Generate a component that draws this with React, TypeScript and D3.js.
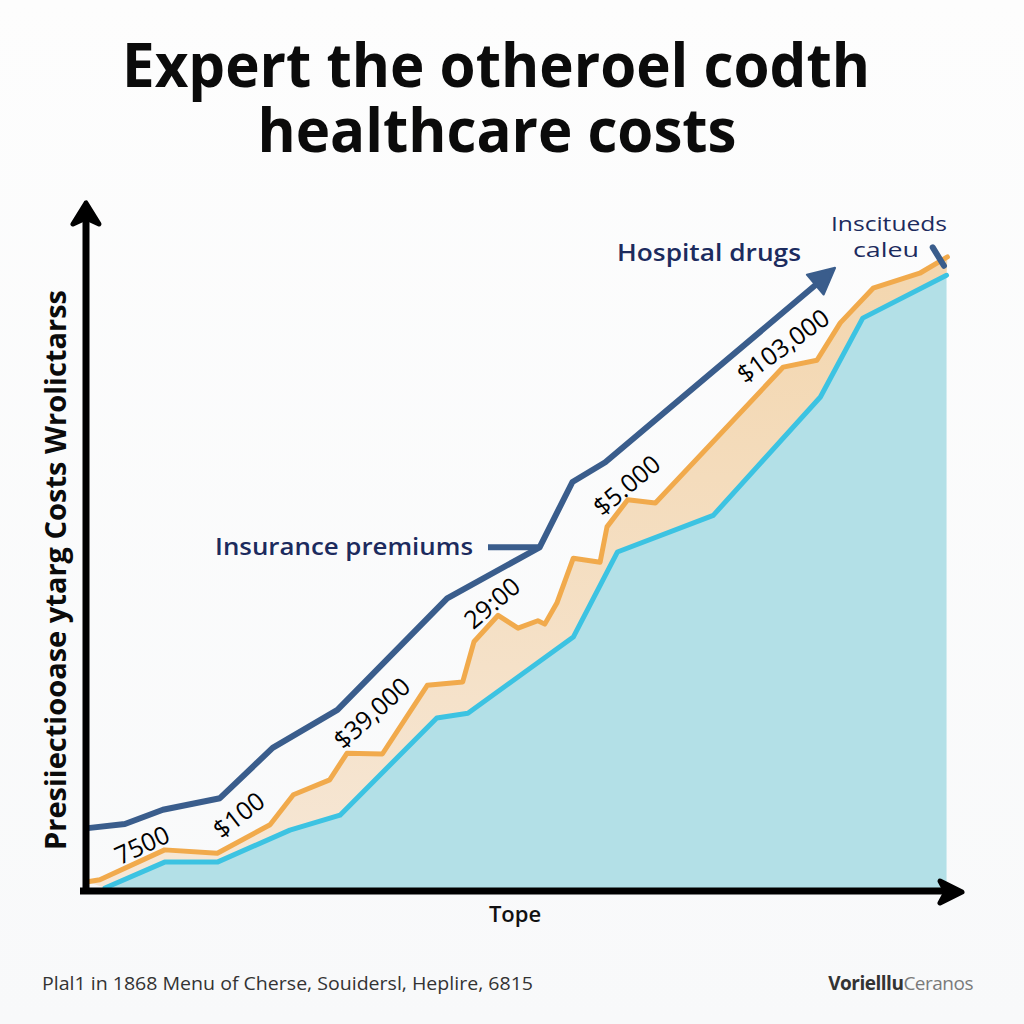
import React from "react";
import * as d3 from "d3";

// ---- data (x: period index 0..100, y: cost index 0..100) ----
const hospitalX = [0.2, 4.5, 8.9, 15.5, 21.6, 29.1, 41.8, 52.5, 56.3, 60.1, 86.7];
const hospitalY = [9.1, 9.7, 11.8, 13.5, 20.9, 26.5, 42.9, 50.4, 60.0, 62.9, 91.5];

const premiumsX = [0.2, 1.6, 9.1, 15.2, 21.3, 24.0, 28.2, 30.2, 34.3, 39.5, 43.6, 44.9, 47.7, 50.0, 52.3, 53.1, 54.5, 56.4, 59.5, 60.3, 62.7, 65.9, 80.7, 84.6, 87.3, 91.1, 96.5, 99.7];
const premiumsY = [1.2, 1.5, 5.9, 5.4, 9.6, 14.0, 16.2, 20.1, 20.0, 30.1, 30.6, 36.5, 40.4, 38.5, 39.6, 39.1, 42.2, 48.8, 48.2, 53.4, 57.4, 56.9, 76.9, 77.9, 83.4, 88.5, 90.7, 93.1];

const baseX = [2.2, 9.1, 15.2, 23.6, 29.4, 40.6, 44.2, 56.4, 61.5, 72.6, 85.0, 89.9, 99.6];
const baseY = [0.3, 4.1, 4.1, 8.8, 11.0, 25.3, 26.0, 37.2, 49.7, 55.1, 72.5, 84.1, 90.4];

const valueLabels = ["7500", "$100", "$39,000", "29:00", "$5.000", "$103,000"];
const valueLabelX = [6.5, 17.7, 33.1, 47.0, 62.6, 80.7];
const valueLabelY = [6.6, 11.0, 26.0, 42.2, 59.5, 80.0];
const valueLabelAngle = [-25, -38, -42, -40, -40, -36];

const title = ["Expert the otheroel codth", "healthcare costs"];
const yTitle = "Presiiectiooase ytarg Costs Wrolictarss";
const xTitle = "Tope";
const footLeft = "Plal1 in 1868 Menu of Cherse, Souidersl, Heplire, 6815";
const footRightA = "Vorielllu";
const footRightB = "Ceranos";

type P = [number, number];
const zip = (xs: number[], ys: number[]): P[] => xs.map((x, i) => [x, ys[i]]);

export default function App() {
  const W = 1024, H = 1024;
  const x = d3.scaleLinear().domain([0, 100]).range([86, 950]);
  const y = d3.scaleLinear().domain([0, 100]).range([890, 210]);

  const line = d3.line<P>().x((d) => x(d[0])).y((d) => y(d[1]));
  const area = d3.area<P>().x((d) => x(d[0])).y0(y(0)).y1((d) => y(d[1]));

  const hosp = zip(hospitalX, hospitalY);
  const prem = zip(premiumsX, premiumsY);
  const base = zip(baseX, baseY);

  const bandPath = line(prem.concat(base.slice().reverse()))! + "Z";

  const navy = "#1c2b5e";
  const blue = "#3a5d8c";
  const orange = "#f1aa4c";
  const cyan = "#3cc3e2";

  const last = hosp[hosp.length - 1];
  const prev = hosp[hosp.length - 2];
  const ang = Math.atan2(y(last[1]) - y(prev[1]), x(last[0]) - x(prev[0])) * 180 / Math.PI;

  const ax = x(0);
  const ay = y(0);

  return (
    <svg width={W} height={H} viewBox={`0 0 ${W} ${H}`}
      style={{ position: "fixed", left: 0, top: 0, background: "#fbfbfb" }}>
      <defs>
        <linearGradient id="band" x1="0" y1="0" x2="0" y2="1">
          <stop offset="0%" stopColor="#f3d6ae" />
          <stop offset="100%" stopColor="#f6e7d6" />
        </linearGradient>
        <linearGradient id="bg" x1="0" y1="0" x2="0" y2="1">
          <stop offset="0%" stopColor="#fdfdfd" />
          <stop offset="100%" stopColor="#f8f9fa" />
        </linearGradient>
      </defs>
      <rect x={0} y={0} width={W} height={H} fill="url(#bg)" />

      {/* title */}
      <g fontFamily="'Open Sans', sans-serif" fontWeight={700} fill="#0b0b0b" textAnchor="middle" fontSize={61}>
        <text x={496} y={87} textLength={748} lengthAdjust="spacingAndGlyphs">{title[0]}</text>
        <text x={497} y={152} textLength={479} lengthAdjust="spacingAndGlyphs">{title[1]}</text>
      </g>

      {/* fills */}
      <path d={area(base)!} fill="#b3e0e7" />
      <path d={bandPath} fill="url(#band)" />

      {/* lines */}
      <path d={line(base)!} fill="none" stroke={cyan} strokeWidth={5} strokeLinejoin="round" strokeLinecap="round" />
      <path d={line(prem)!} fill="none" stroke={orange} strokeWidth={5} strokeLinejoin="round" strokeLinecap="round" />
      <path d={line(hosp.slice(0, -1).concat([[last[0] - 1.2, last[1] - 1.4]]))!} fill="none" stroke={blue} strokeWidth={6} strokeLinejoin="round" />
      <path d="M0,0 L-26,-13 L-26,13 Z" fill={blue} stroke={blue} strokeWidth={2} strokeLinejoin="round"
        transform={`translate(${x(last[0])},${y(last[1])}) rotate(${ang})`} />
      {/* connector for "Insurance premiums" */}
      <line x1={488} x2={x(hospitalX[7])} y1={y(hospitalY[7])} y2={y(hospitalY[7])} stroke={blue} strokeWidth={6} />
      {/* small end tick */}
      <line x1={x(98.0)} y1={y(94.5)} x2={x(99.3)} y2={y(91.8)} stroke={blue} strokeWidth={6} strokeLinecap="round" />

      {/* value labels */}
      <g fontFamily="'Open Sans', sans-serif" fontSize={25} fill="#000" textAnchor="middle">
        {valueLabels.map((t, i) => (
          <text key={t} transform={`translate(${x(valueLabelX[i])},${y(valueLabelY[i])}) rotate(${valueLabelAngle[i]})`} dy="0.35em">{t}</text>
        ))}
      </g>

      {/* series annotations */}
      <g fontFamily="'Open Sans', sans-serif" fill={navy} fontWeight={600}>
        <text x={215} y={555} fontSize={24} textLength={258} lengthAdjust="spacingAndGlyphs">Insurance premiums</text>
        <text x={617} y={261} fontSize={24} textLength={184} lengthAdjust="spacingAndGlyphs">Hospital drugs</text>
        <text x={889} y={231} fontSize={20} fontWeight={500} textAnchor="middle" textLength={116} lengthAdjust="spacingAndGlyphs">Inscitueds</text>
        <text x={886} y={257} fontSize={20} fontWeight={500} textAnchor="middle" textLength={66} lengthAdjust="spacingAndGlyphs">caleu</text>
      </g>

      {/* axes */}
      <line x1={ax} y1={ay + 2} x2={ax} y2={212} stroke="#000" strokeWidth={7} />
      <path d={`M${ax},203 L${ax - 13},224 L${ax},218 L${ax + 13},224 Z`} fill="#000" stroke="#000" strokeWidth={5} strokeLinejoin="round" />
      <line x1={80} y1={ay + 1} x2={954} y2={ay + 1} stroke="#000" strokeWidth={7} />
      <path d={`M962,${ay + 2} L940,${ay - 9} L946,${ay + 2} L940,${ay + 13} Z`} fill="#000" stroke="#000" strokeWidth={5} strokeLinejoin="round" />

      {/* axis titles */}
      <text transform="translate(66,570) rotate(-90)" textAnchor="middle" fontFamily="'Open Sans', sans-serif"
        fontWeight={700} fontSize={28} fill="#0b0b0b" textLength={560} lengthAdjust="spacingAndGlyphs">{yTitle}</text>
      <text x={515} y={922} textAnchor="middle" fontFamily="'Open Sans', sans-serif" fontWeight={600} fontSize={22} fill="#111">{xTitle}</text>

      {/* footer */}
      <text x={42} y={990} fontFamily="'Open Sans', sans-serif" fontSize={19} fill="#333" textLength={491} lengthAdjust="spacingAndGlyphs">{footLeft}</text>
      <text x={973} y={990} textAnchor="end" fontFamily="'Open Sans', sans-serif" fontSize={19} letterSpacing={-0.5}>
        <tspan fill="#333" fontWeight={700}>{footRightA}</tspan>
        <tspan fill="#7a7a7a">{footRightB}</tspan>
      </text>
    </svg>
  );
}
